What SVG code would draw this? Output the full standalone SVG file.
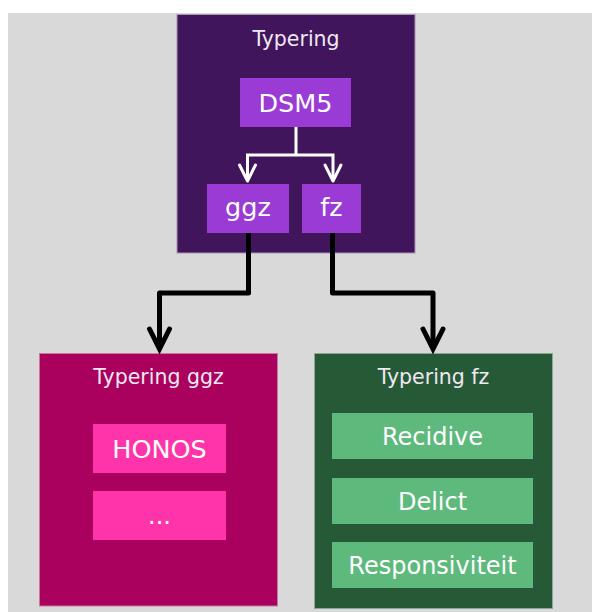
<svg xmlns="http://www.w3.org/2000/svg" width="592" height="612" viewBox="0 0 592 612">
<style>
text{font-family:"DejaVu Sans","Verdana",sans-serif;text-anchor:middle;fill:#ffffff}
.title{font-size:20.5px;fill:#f0e8f2}
.item{font-size:24px}
.big{font-size:25.5px}
.white{stroke:#ffffff;stroke-width:3;fill:none}
.black{stroke:#000000;stroke-width:5;fill:none;stroke-linejoin:round}
</style>
<defs>
<marker id="wArrow" markerUnits="userSpaceOnUse" markerWidth="30" markerHeight="30" refX="0" refY="0" orient="auto" overflow="visible">
<path d="M-16,-8 L0,0 L-16,8" stroke="#ffffff" stroke-width="3" fill="none" stroke-linecap="round" stroke-linejoin="round"/>
</marker>
<marker id="bArrow" markerUnits="userSpaceOnUse" markerWidth="40" markerHeight="40" refX="0" refY="0" orient="auto" overflow="visible">
<path d="M-20,-10 L0,0 L-20,10" stroke="#000000" stroke-width="5" fill="none" stroke-linecap="round" stroke-linejoin="miter"/>
</marker>
</defs>
<rect x="8" y="13" width="584" height="599" fill="#d9d9d9"/>
<g id="typering">
<rect x="177" y="14.5" width="238" height="238.5" fill="#41155b" stroke="#a898b0" stroke-width="1"/>
<text class="title" x="296" y="45.5">Typering</text>
</g>
<g id="dsm5">
<rect x="240" y="78" width="111" height="49" fill="#9a3bd6"/>
<text class="big" x="295.5" y="111.5">DSM5</text>
</g>
<g id="ggz">
<rect x="207" y="184" width="82" height="49" fill="#9a3bd6"/>
<text class="big" x="248" y="216">ggz</text>
</g>
<g id="fz">
<rect x="302" y="184" width="59" height="49" fill="#9a3bd6"/>
<text class="big" x="331.5" y="216">fz</text>
</g>
<g id="typering-ggz">
<rect x="39.5" y="353.5" width="238" height="252.5" fill="#aa005e" stroke="#c77aa0" stroke-width="1"/>
<text class="title" x="158.5" y="383.5">Typering ggz</text>
</g>
<g id="honos">
<rect x="93" y="424" width="133" height="49" fill="#ff33aa"/>
<text class="big" x="159.5" y="457.5">HONOS</text>
</g>
<g id="dots">
<rect x="93" y="491" width="133" height="49" fill="#ff33aa"/>
<text class="item" x="159.5" y="524">...</text>
</g>
<g id="typering-fz">
<rect x="314.5" y="353.5" width="238" height="255" fill="#265a37" stroke="#8aa892" stroke-width="1"/>
<text class="title" x="433.5" y="383.5">Typering fz</text>
</g>
<g id="recidive">
<rect x="332" y="413" width="201" height="46" fill="#5eb97c"/>
<text class="item" x="432.5" y="444.5">Recidive</text>
</g>
<g id="delict">
<rect x="332" y="478" width="201" height="46" fill="#5eb97c"/>
<text class="item" x="432.5" y="509.5">Delict</text>
</g>
<g id="responsiviteit">
<rect x="332" y="542" width="201" height="46" fill="#5eb97c"/>
<text class="item" x="432.5" y="573.5">Responsiviteit</text>
</g>
<g id="connectors">
<path class="white" d="M296,127 V155"/>
<path class="white" d="M296,155 H247.5 V181" marker-end="url(#wArrow)"/>
<path class="white" d="M296,155 H333 V181" marker-end="url(#wArrow)"/>
<path class="black" d="M248.5,233 V293 H159.5 V349" marker-end="url(#bArrow)"/>
<path class="black" d="M332.5,233 V293 H433 V349" marker-end="url(#bArrow)"/>
</g>
</svg>
